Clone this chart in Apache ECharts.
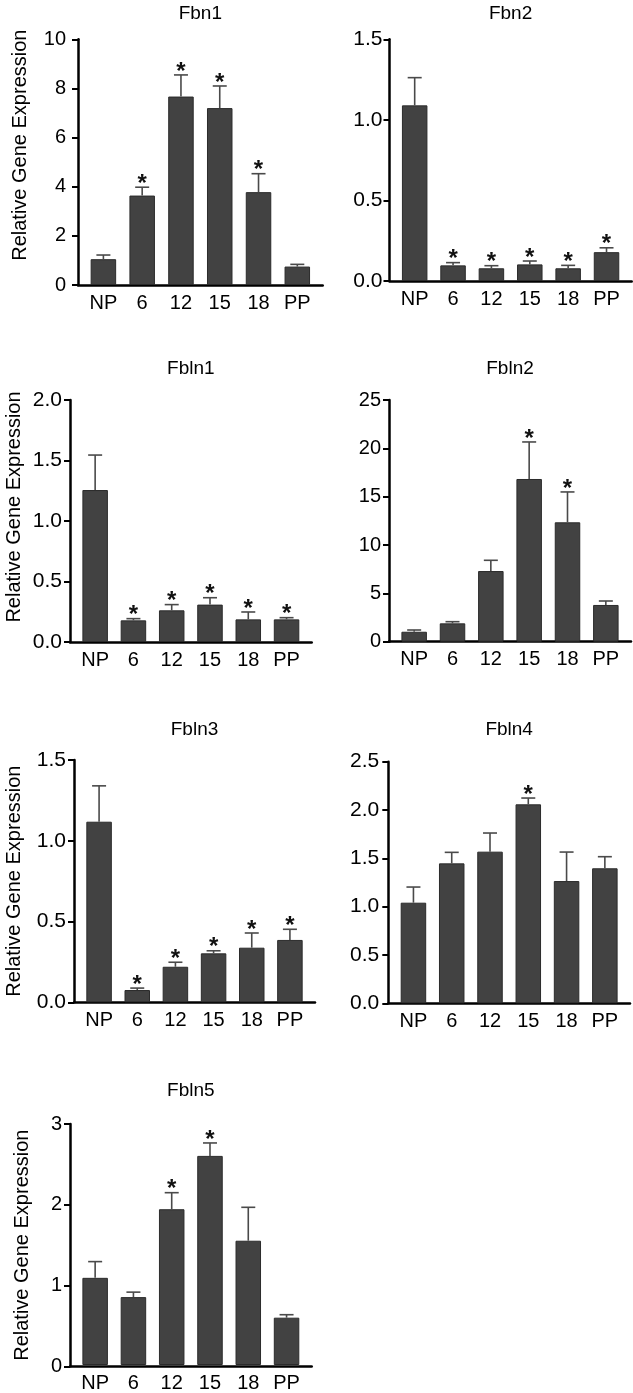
<!DOCTYPE html>
<html>
<head>
<meta charset="utf-8">
<script src="https://cdn.jsdelivr.net/npm/echarts@6/dist/echarts.min.js"></script>
<style>
html,body{margin:0;padding:0;background:#fff;}
#c{width:633px;height:1393px;}
</style>
</head>
<body>
<div id="c"></div>
<script>
// ---------- DATA ----------
const categories = ['NP', '6', '12', '15', '18', 'PP'];
const geneNames = ['Fbn1', 'Fbn2', 'Fbln1', 'Fbln2', 'Fbln3', 'Fbln4', 'Fbln5'];
const yAxisTitle = 'Relative Gene Expression';

const fbn1Mean = [1.05, 3.64, 7.67, 7.20, 3.78, 0.75];
const fbn1Sem  = [0.17, 0.34, 0.88, 0.90, 0.75, 0.09];
const fbn1Sig  = [0, 1, 1, 1, 1, 0];

const fbn2Mean = [1.090, 0.097, 0.079, 0.103, 0.079, 0.179];
const fbn2Sem  = [0.172, 0.017, 0.016, 0.021, 0.018, 0.027];
const fbn2Sig  = [0, 1, 1, 1, 1, 1];

const fbln1Mean = [1.256, 0.179, 0.262, 0.309, 0.187, 0.187];
const fbln1Sem  = [0.289, 0.014, 0.047, 0.057, 0.061, 0.014];
const fbln1Sig  = [0, 1, 1, 1, 1, 1];

const fbln2Mean = [1.03, 1.90, 7.31, 16.83, 12.35, 3.80];
const fbln2Sem  = [0.18, 0.17, 1.11, 3.83, 3.14, 0.41];
const fbln2Sig  = [0, 0, 0, 1, 1, 0];

const fbln3Mean = [1.118, 0.076, 0.220, 0.303, 0.338, 0.386];
const fbln3Sem  = [0.222, 0.012, 0.028, 0.016, 0.091, 0.066];
const fbln3Sig  = [0, 1, 1, 1, 1, 1];

const fbln4Mean = [1.041, 1.448, 1.569, 2.059, 1.265, 1.397];
const fbln4Sem  = [0.162, 0.114, 0.193, 0.065, 0.300, 0.120];
const fbln4Sig  = [0, 0, 0, 1, 0, 0];

const fbln5Mean = [1.085, 0.845, 1.939, 2.603, 1.547, 0.589];
const fbln5Sem  = [0.202, 0.062, 0.206, 0.161, 0.416, 0.037];
const fbln5Sig  = [0, 0, 1, 1, 0, 0];

const yAxisMax      = [10, 1.5, 2, 25, 1.5, 2.5, 3];
const yAxisStep     = [2, 0.5, 0.5, 5, 0.5, 0.5, 1];
const yTickDecimals = [0, 1, 1, 0, 1, 1, 0];

const allMeans = [fbn1Mean, fbn2Mean, fbln1Mean, fbln2Mean, fbln3Mean, fbln4Mean, fbln5Mean];
const allSems  = [fbn1Sem, fbn2Sem, fbln1Sem, fbln2Sem, fbln3Sem, fbln4Sem, fbln5Sem];
const allSigs  = [fbn1Sig, fbn2Sig, fbln1Sig, fbln2Sig, fbln3Sig, fbln4Sig, fbln5Sig];

// ---------- LAYOUT (pixels) ----------
const FONT = "'Liberation Sans', Arial, Helvetica, sans-serif";
const panels = [
  {ax: 78,    right: 322.7, top: 39.3,  zero: 285,    titleY: 14,   nameGap: 48, nameShift: 17, labelMargin: 12},
  {ax: 389.5, right: 631.7, top: 39.3,  zero: 281,    titleY: 14,   labelMargin: 7},
  {ax: 70,    right: 311.7, top: 400,   zero: 642,    titleY: 369,  nameGap: 46, nameShift: 14, labelMargin: 8},
  {ax: 389,   right: 631,   top: 400,   zero: 641.7,  titleY: 369,  labelMargin: 8},
  {ax: 74,    right: 315,   top: 760,   zero: 1002.3, titleY: 730,  nameGap: 50, nameShift: 0, labelMargin: 8},
  {ax: 388.3, right: 630,   top: 761.7, zero: 1003.3, titleY: 730,  labelMargin: 9},
  {ax: 70,    right: 311.7, top: 1124,  zero: 1366.3, titleY: 1091, nameGap: 38, nameShift: 0, labelMargin: 8}
];
const INSET = 6;

const grid = [], xAxis = [], yAxis = [], series = [], title = [];

panels.forEach((p, i) => {
  const w = p.right - p.ax;
  const h = p.zero - p.top;
  grid.push({left: p.ax, top: p.top, width: w, height: h, containLabel: false});
  grid.push({left: p.ax + INSET, top: p.top, width: w - 2 * INSET, height: h, containLabel: false});

  const fi = 2 * i, di = 2 * i + 1;
  xAxis.push({
    type: 'value', gridIndex: fi, min: 0, max: 1,
    axisLine: {show: true, onZero: false, lineStyle: {color: '#000', width: 2.5}},
    axisTick: {show: false}, axisLabel: {show: false}, splitLine: {show: false}
  });
  xAxis.push({
    type: 'category', gridIndex: di, data: categories,
    axisLine: {show: false}, axisTick: {show: false},
    axisLabel: {show: true, interval: 0, margin: 8, fontSize: 20, color: '#000', fontFamily: FONT}
  });
  const yFrame = {
    type: 'value', gridIndex: fi, min: 0, max: yAxisMax[i], interval: yAxisStep[i],
    axisLine: {show: true, onZero: false, lineStyle: {color: '#000', width: 2.5}},
    axisTick: {show: true, length: 6, lineStyle: {color: '#000', width: 2}},
    axisLabel: {
      show: true, margin: p.labelMargin, fontSize: yTickDecimals[i] ? 21 : 20, color: '#000', fontFamily: FONT,
      formatter: (v) => v.toFixed(yTickDecimals[i])
    },
    splitLine: {show: false}
  };
  if (p.nameGap !== undefined) {
    yFrame.name = yAxisTitle;
    yFrame.nameLocation = 'middle';
    yFrame.nameGap = p.nameGap;
    yFrame.nameTextStyle = {fontSize: 20, color: '#000', fontFamily: FONT, padding: [0, 0, 0, 2 * p.nameShift]};
  }
  yAxis.push(yFrame);
  yAxis.push({type: 'value', gridIndex: di, min: 0, max: yAxisMax[i], show: false});

  series.push({
    type: 'bar', xAxisIndex: di, yAxisIndex: di, data: allMeans[i], barWidth: 25.5,
    itemStyle: {color: '#424242', borderColor: '#2b2b2b', borderWidth: 1},
    silent: true, z: 2
  });
  series.push({
    type: 'custom', xAxisIndex: di, yAxisIndex: di, clip: false, silent: true, z: 3,
    data: allMeans[i].map((m, k) => [k, m, m + allSems[i][k], allSigs[i][k]]),
    renderItem: (params, api) => {
      const base = api.coord([api.value(0), api.value(1)]);
      const top = api.coord([api.value(0), api.value(2)]);
      const st = {stroke: '#4a4a4a', lineWidth: 1.6};
      const children = [
        {type: 'line', shape: {x1: base[0], y1: base[1], x2: top[0], y2: top[1]}, style: st},
        {type: 'line', shape: {x1: top[0] - 7, y1: top[1], x2: top[0] + 7, y2: top[1]}, style: st}
      ];
      if (api.value(3)) {
        children.push({
          type: 'text', x: top[0], y: top[1] - 3,
          style: {text: '*', fontSize: 24, fontWeight: 'bold', fill: '#111', align: 'center', verticalAlign: 'middle', fontFamily: FONT}
        });
      }
      return {type: 'group', children};
    }
  });

  title.push({
    text: geneNames[i], left: (p.ax + p.right) / 2, top: p.titleY,
    textAlign: 'center', textVerticalAlign: 'middle', padding: 0,
    textStyle: {fontSize: 19, fontWeight: 'normal', color: '#000', fontFamily: FONT}
  });
});

const chart = echarts.init(document.getElementById('c'), null, {renderer: 'canvas'});
chart.setOption({
  animation: false,
  backgroundColor: '#fff',
  title, grid, xAxis, yAxis, series
});
</script>
</body>
</html>
